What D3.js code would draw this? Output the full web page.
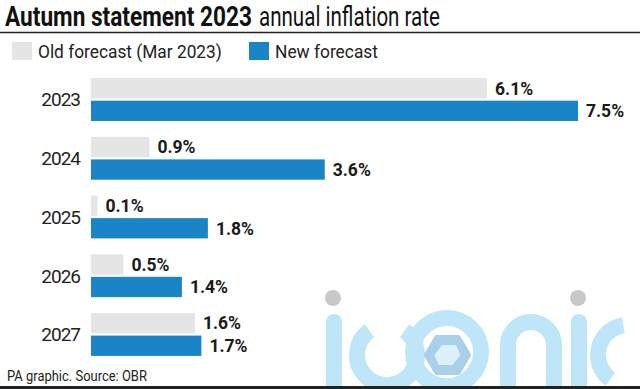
<!DOCTYPE html>
<html>
<head>
<meta charset="utf-8">
<script src="https://cdn.jsdelivr.net/npm/d3@7"></script>
<style>
  body { margin: 0; background: #fff; }
  svg { display: block; font-family: Roboto, "Liberation Sans", sans-serif; }
</style>
</head>
<body>
<svg id="chart" width="640" height="389"></svg>
<script>
var years = ["2023", "2024", "2025", "2026", "2027"];
var oldForecast = [6.1, 0.9, 0.1, 0.5, 1.6];
var newForecast = [7.5, 3.6, 1.8, 1.4, 1.7];
var seriesNames = ["Old forecast (Mar 2023)", "New forecast"];
var seriesColors = ["#e5e5e5", "#1a85c6"];

var width = 640, height = 389;
var svg = d3.select("#chart");

// squeeze a text horizontally so it spans w pixels (the original font is narrow)
function fitText(sel, x, y, w){
    var natural = sel.node().getComputedTextLength();
    sel.attr("transform", "translate(" + x + "," + y + ") scale(" + (w / natural) + ",1)");
}

// watermark, drawn first so it sits behind
var wm = svg.append("g").attr("fill", "none").attr("stroke", "#bfe6f8")
    .attr("stroke-width", 16).attr("stroke-linecap", "round");
wm.append("line").attr("x1", 334).attr("x2", 334).attr("y1", 322).attr("y2", 400);
wm.append("path").attr("d", d3.arc()({innerRadius: 30, outerRadius: 30, startAngle: Math.PI * 0.2, endAngle: Math.PI * 1.8}))
    .attr("transform", "translate(387,355)");
wm.append("circle").attr("cx", 447).attr("cy", 352).attr("r", 34);
wm.append("path").attr("d", "M508,400 L508,345 A23,23 0 0 1 554,345 L554,400");
wm.append("line").attr("x1", 579).attr("x2", 579).attr("y1", 322).attr("y2", 400);
wm.append("path").attr("d", d3.arc()({innerRadius: 30, outerRadius: 30, startAngle: Math.PI * 1.2, endAngle: Math.PI * 1.95}))
    .attr("transform", "translate(628,355)");
svg.append("path")
    .attr("d", "M437,338 L458,338 L468,355 L458,372 L437,372 L427,355 Z")
    .attr("fill", "#a9cfe9").attr("stroke", "#a9cfe9").attr("stroke-width", 6).attr("stroke-linejoin", "round");
svg.append("path")
    .attr("d", "M441,345 L455,345 L461,355 L455,365 L441,365 L435,355 Z")
    .attr("fill", "#ddf1fb").attr("transform", "skewX(-10) translate(62,0)");
svg.append("circle").attr("cx", 333).attr("cy", 298).attr("r", 8).attr("fill", "#c8c8c8");
svg.append("circle").attr("cx", 578).attr("cy", 298).attr("r", 8).attr("fill", "#c8c8c8");

// title, bold and regular parts fitted separately
var titleBold = svg.append("text").attr("font-size", 27).attr("font-weight", "bold")
    .attr("fill", "#111").text("Autumn statement 2023");
fitText(titleBold, 5, 26, 247);
var titleRest = svg.append("text").attr("font-size", 27).attr("fill", "#111")
    .text("annual inflation rate");
fitText(titleRest, 259, 26, 181);

svg.append("line").attr("x1", 0).attr("x2", width).attr("y1", 32.5).attr("y2", 32.5)
    .attr("stroke", "#222").attr("stroke-width", 1.5);

// legend
var legendX = [12, 249];
var legendLen = [184, 103];
seriesNames.forEach(function(name, i){
    svg.append("rect").attr("x", legendX[i]).attr("y", 42).attr("width", 20).attr("height", 18)
        .attr("fill", seriesColors[i]);
    var t = svg.append("text").attr("font-size", 18.5).attr("fill", "#222").text(name);
    fitText(t, legendX[i] + 26, 58, legendLen[i]);
});

// bars
var margin = {top: 74, left: 91, right: 62, bottom: 29};
var x = d3.scaleLinear().domain([0, 7.5]).range([margin.left, width - margin.right]);
var y = d3.scaleBand().domain(years).range([margin.top, height - margin.bottom]).paddingInner(0.27).paddingOuter(0.07);
var sub = d3.scaleBand().domain([0, 1]).range([0, y.bandwidth()]).paddingInner(0.1);

var rows = years.map(function(yr, i){ return {year: yr, values: [oldForecast[i], newForecast[i]]}; });

var g = svg.selectAll(".row").data(rows).enter().append("g")
    .attr("class", "row")
    .attr("transform", function(d){ return "translate(0," + y(d.year) + ")"; });

g.selectAll("rect").data(function(d){ return d.values; }).enter().append("rect")
    .attr("x", x(0))
    .attr("y", function(d, i){ return sub(i); })
    .attr("width", function(d){ return x(d) - x(0); })
    .attr("height", sub.bandwidth())
    .attr("fill", function(d, i){ return seriesColors[i]; });

g.selectAll(".val").data(function(d){ return d.values; }).enter().append("text")
    .attr("class", "val")
    .attr("x", function(d){ return x(d) + 8; })
    .attr("y", function(d, i){ return sub(i) + sub.bandwidth() / 2; })
    .attr("dy", "0.36em")
    .attr("font-size", 17.5).attr("font-weight", "bold").attr("fill", "#1a1a1a")
    .attr("letter-spacing", 0)
    .text(function(d){ return d.toFixed(1) + "%"; });

g.append("text")
    .attr("x", 80).attr("y", y.bandwidth() / 2).attr("dy", "0.36em")
    .attr("text-anchor", "end").attr("font-size", 19).attr("fill", "#222")
    .attr("letter-spacing", -1)
    .text(function(d){ return d.year; });

// footer
var foot = svg.append("text").attr("font-size", 14.5).attr("fill", "#222")
    .text("PA graphic. Source: OBR");
fitText(foot, 7, 381, 140);
svg.append("line").attr("x1", 0).attr("x2", width).attr("y1", 387.5).attr("y2", 387.5)
    .attr("stroke", "#222").attr("stroke-width", 3);
</script>
</body>
</html>
